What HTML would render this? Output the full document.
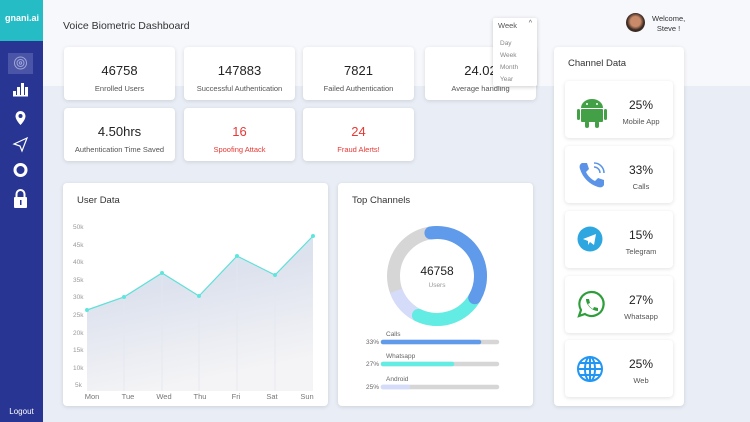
<!DOCTYPE html>
<html><head><meta charset="utf-8"><style>
*{margin:0;padding:0;box-sizing:border-box}
body{width:750px;height:422px;overflow:hidden;background:#e9edf5;font-family:"Liberation Sans",sans-serif;position:relative;color:#222}
.a{position:absolute}
.top{left:43px;top:0;width:707px;height:86px;background:#f7f8fc}
.card{position:absolute;background:#fff;border-radius:4px;box-shadow:0 1px 4px rgba(0,0,0,.12);text-align:center}
.card .n{font-size:13px;color:#222;margin-top:16px}
.card .l{font-size:7.5px;color:#555;margin-top:6px}
.red .n,.red .l{color:#e53935}
.ch .p{position:absolute;left:56px;width:40px;top:17px;font-size:12px;text-align:center;color:#222}
.ch .t{position:absolute;left:46px;width:60px;top:36px;font-size:7.5px;text-align:center;color:#555}
.ch svg{position:absolute;left:12px;top:14px}
</style></head><body>
<div class="a top"></div>
<div class="a" style="left:0;top:0;width:43px;height:422px;background:#283593"></div>
<div class="a" style="left:0;top:0;width:43px;height:41px;background:#25bcc6"></div>
<div class="a" style="left:5px;top:13px;font-size:9px;font-weight:bold;color:#fff">gnani.ai</div>
<div class="a" style="left:8px;top:53px;width:25px;height:21px;background:#4b55a8"></div>
<svg class="a" style="left:0;top:50px" width="43" height="160">
<g fill="none" stroke="#9fa6d6" stroke-width="1"><circle cx="20.5" cy="13" r="6"/><circle cx="20.5" cy="13" r="3.5"/><circle cx="20.5" cy="13" r="1.2"/></g>
<g fill="#fff"><rect x="13" y="41" width="3" height="4"/><rect x="17" y="37" width="3" height="8"/><rect x="21" y="33" width="3" height="12"/><rect x="25" y="37" width="3" height="8"/><rect x="13" y="45" width="15" height="1.5"/>
<path d="M20.5 61a5 5 0 0 1 5 5c0 4-5 9-5 9s-5-5-5-9a5 5 0 0 1 5-5z"/></g>
<circle cx="20.5" cy="66" r="2" fill="#283593"/>
<path d="M14 94l13-6-5 13-2-5z" fill="none" stroke="#fff" stroke-width="1.2"/>
<circle cx="20.5" cy="120" r="5.5" fill="none" stroke="#fff" stroke-width="3"/>
<rect x="14" y="147" width="13" height="11" rx="1" fill="#fff"/><path d="M16.5 147v-3a4 4 0 0 1 8 0v3" fill="none" stroke="#fff" stroke-width="2"/><rect x="20" y="150" width="1.5" height="5" fill="#283593"/>
</svg>
<div class="a" style="left:0;top:407px;width:43px;text-align:center;font-size:8px;color:#fff">Logout</div>
<div class="a" style="left:63px;top:20px;font-size:10.5px;color:#333">Voice Biometric Dashboard</div>
<div class="card" style="left:64px;top:47px;width:111px;height:53px"><div class="n">46758</div><div class="l">Enrolled Users</div></div>
<div class="card" style="left:184px;top:47px;width:111px;height:53px"><div class="n">147883</div><div class="l">Successful Authentication</div></div>
<div class="card" style="left:303px;top:47px;width:111px;height:53px"><div class="n">7821</div><div class="l">Failed Authentication</div></div>
<div class="card" style="left:425px;top:47px;width:111px;height:53px"><div class="n">24.02</div><div class="l">Average handling</div></div>
<div class="card" style="left:64px;top:108px;width:111px;height:53px"><div class="n">4.50hrs</div><div class="l">Authentication Time Saved</div></div>
<div class="card red" style="left:184px;top:108px;width:111px;height:53px"><div class="n">16</div><div class="l">Spoofing Attack</div></div>
<div class="card red" style="left:303px;top:108px;width:111px;height:53px"><div class="n">24</div><div class="l">Fraud Alerts!</div></div>
<div class="a" style="left:493px;top:18px;width:44px;height:68px;background:#fff;box-shadow:0 1px 4px rgba(0,0,0,.2);border-radius:2px;font-size:6.5px;color:#888">
<div style="position:absolute;left:5px;top:3px;font-size:7.5px;color:#555">Week</div><div style="position:absolute;right:5px;top:2px;font-size:7px;color:#555">^</div>
<div style="position:absolute;left:7px;top:20px;line-height:12px">Day<br>Week<br>Month<br>Year</div></div>
<div class="a" style="left:626px;top:13px;width:19px;height:19px;border-radius:50%;background:radial-gradient(circle at 50% 45%,#c98a6a 35%,#3a2a22 60%)"></div>
<div class="a" style="left:652px;top:14px;font-size:7.5px;color:#333;line-height:10px;text-align:center">Welcome,<br>Steve !</div>
<div class="card" style="left:554px;top:47px;width:130px;height:359px;text-align:left"><div style="position:absolute;left:14px;top:11px;font-size:9.5px;color:#333">Channel Data</div></div>
<div class="card ch" style="left:565px;top:81px;width:108px;height:57px"><svg width="30" height="34" viewBox="0 0 30 34"><g fill="#43a047"><path d="M4 13a11 9 0 0 1 22 0z"/><rect x="4" y="14" width="22" height="13" rx="1"/><rect x="0" y="14" width="3" height="11" rx="1.5"/><rect x="27" y="14" width="3" height="11" rx="1.5"/><rect x="8" y="26" width="4" height="7" rx="2"/><rect x="18" y="26" width="4" height="7" rx="2"/></g><circle cx="10" cy="9" r="1" fill="#fff"/><circle cx="20" cy="9" r="1" fill="#fff"/></svg><div class="p">25%</div><div class="t">Mobile App</div></div>
<div class="card ch" style="left:565px;top:146px;width:108px;height:57px"><svg width="30" height="30" viewBox="0 0 30 30"><path d="M5 3l5 0 2 6-3 3c2 4 5 7 9 9l3-3 6 2v5c-1 2-3 3-6 2C12 24 6 18 3 9 2 6 3 4 5 3z" fill="#5b93e8"/><g fill="none" stroke="#5b93e8" stroke-width="1.5"><path d="M17 7a6 6 0 0 1 6 6"/><path d="M17 3a10 10 0 0 1 10 10"/></g></svg><div class="p">33%</div><div class="t">Calls</div></div>
<div class="card ch" style="left:565px;top:211px;width:108px;height:57px"><svg width="30" height="30" viewBox="0 0 30 30"><circle cx="13" cy="14" r="12.5" fill="#2ea6e0"/><path d="M6 14l13-5-2 11-4-3-2 3v-4z" fill="#fff"/></svg><div class="p">15%</div><div class="t">Telegram</div></div>
<div class="card ch" style="left:565px;top:276px;width:108px;height:57px"><svg width="30" height="30" viewBox="0 0 30 30"><path d="M14 2a12 12 0 1 1-6 22l-6 2 2-6A12 12 0 0 1 14 2z" fill="none" stroke="#2e9e3a" stroke-width="2.2"/><path d="M9 9l3 0 1 4-2 1c1 2 3 4 5 5l1-2 4 1v3c-6 0-12-6-12-12z" fill="#2e9e3a"/></svg><div class="p">27%</div><div class="t">Whatsapp</div></div>
<div class="card ch" style="left:565px;top:340px;width:108px;height:57px"><svg width="30" height="30" viewBox="0 0 30 30"><g fill="none" stroke="#2196f3" stroke-width="2"><circle cx="13" cy="15" r="12"/><ellipse cx="13" cy="15" rx="5" ry="12"/><path d="M1 15h24M3 9h20M3 21h20M13 3v24"/></g></svg><div class="p">25%</div><div class="t">Web</div></div>
<div class="card" style="left:63px;top:183px;width:265px;height:223px"></div>
<div class="a" style="left:77px;top:195px;font-size:9.5px;color:#333">User Data</div>
<svg class="a" style="left:63px;top:183px" width="265" height="223">
<defs><linearGradient id="g" x1="0" y1="0" x2="0.3" y2="1"><stop offset="0" stop-color="#cfeaf2"/><stop offset=".4" stop-color="#dde2ee"/><stop offset="1" stop-color="#f4f4f6"/></linearGradient></defs>
<g transform="translate(-63,-183)">
<path d="M87 310L124 297L162 273L199 296L237 256L275 275L313 236L313 391L87 391Z" fill="url(#g)"/>
<g stroke="#e4e7ef" stroke-width="0.8"><path d="M124 297V391M162 273V391M199 296V391M237 256V391M275 275V391"/></g>
<polyline points="87,310 124,297 162,273 199,296 237,256 275,275 313,236" fill="none" stroke="#5ee0d8" stroke-width="1.2"/>
<g fill="#5ee6de"><circle cx="87" cy="310" r="2"/><circle cx="124" cy="297" r="2"/><circle cx="162" cy="273" r="2"/><circle cx="199" cy="296" r="2"/><circle cx="237" cy="256" r="2"/><circle cx="275" cy="275" r="2"/><circle cx="313" cy="236" r="2"/></g>
<g font-size="6.5" fill="#999" font-family="Liberation Sans"><text x="73" y="229">50k</text><text x="73" y="247">45k</text><text x="73" y="264">40k</text><text x="73" y="282">35k</text><text x="73" y="299">30k</text><text x="73" y="317">25k</text><text x="73" y="335">20k</text><text x="73" y="352">15k</text><text x="73" y="370">10k</text><text x="75" y="387">5k</text></g>
<g font-size="7.5" fill="#777" font-family="Liberation Sans" text-anchor="middle"><text x="92" y="399">Mon</text><text x="128" y="399">Tue</text><text x="164" y="399">Wed</text><text x="200" y="399">Thu</text><text x="236" y="399">Fri</text><text x="272" y="399">Sat</text><text x="307" y="399">Sun</text></g>
</g></svg>
<div class="card" style="left:338px;top:183px;width:195px;height:223px"></div>
<div class="a" style="left:352px;top:195px;font-size:9.5px;color:#333">Top Channels</div>
<svg class="a" style="left:338px;top:183px" width="195" height="223"><g transform="translate(-338,-183)" font-family="Liberation Sans">
<g fill="none" stroke-width="13">
<circle cx="437" cy="276" r="43.5" stroke="#d6d6d6"/>
<circle cx="437" cy="276" r="43.5" stroke="#d4dcf9" stroke-dasharray="34.2 300" transform="rotate(115 437 276)"/>
<circle cx="437" cy="276" r="43.5" stroke="#62ece3" stroke-dasharray="64.5 300" stroke-linecap="round" transform="rotate(30 437 276)"/>
<circle cx="437" cy="276" r="43.5" stroke="#5f9aeb" stroke-dasharray="97 300" stroke-linecap="round" transform="rotate(-98 437 276)"/>
</g>
<text x="437" y="275" text-anchor="middle" font-size="12" fill="#222">46758</text>
<text x="437" y="287" text-anchor="middle" font-size="6.5" fill="#999">Users</text>
<g font-size="6.5" fill="#666"><text x="386" y="336">Calls</text><text x="386" y="358">Whatsapp</text><text x="386" y="381">Android</text>
<text x="366" y="344">33%</text><text x="366" y="366">27%</text><text x="366" y="389">25%</text></g>
<g stroke-linecap="round" stroke-width="4.5"><path d="M383 342H497M383 364H497M383 387H497" stroke="#d6d6d6"/><path d="M383 342H479" stroke="#5f9aeb"/><path d="M383 364H452" stroke="#62ece3"/><path d="M383 387H408" stroke="#d4dcf9"/></g>
</g></svg>
</body></html>
